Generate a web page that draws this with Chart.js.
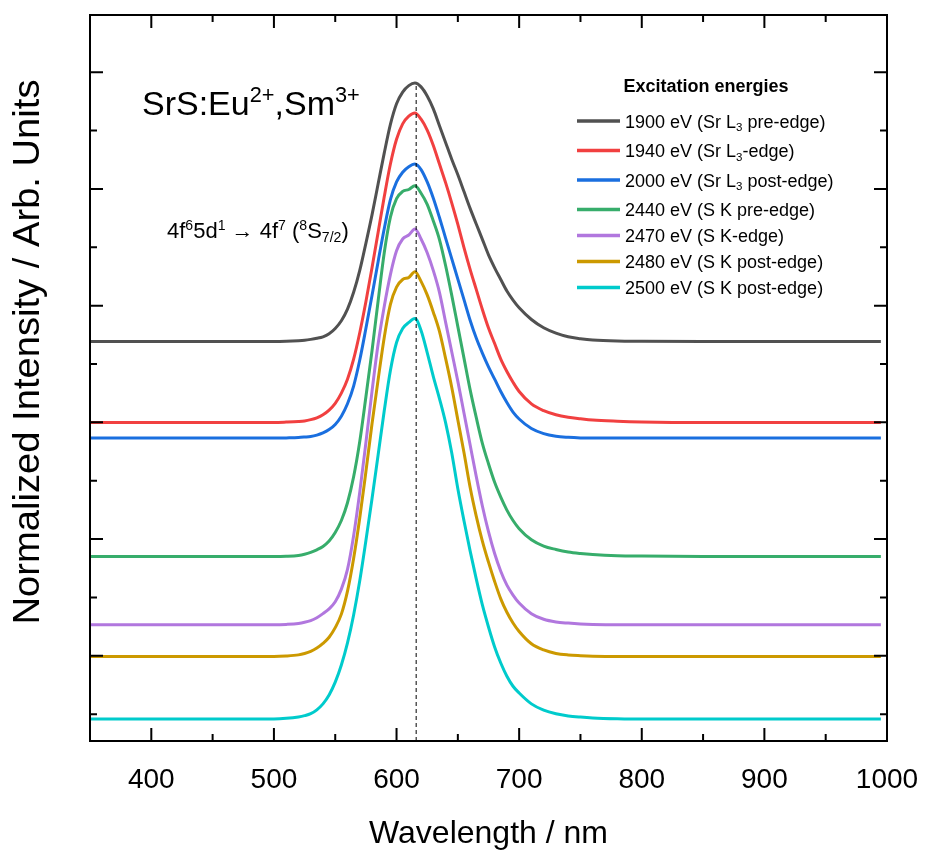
<!DOCTYPE html>
<html>
<head>
<meta charset="utf-8">
<script src="https://cdn.jsdelivr.net/npm/chart.js@4.4.1/dist/chart.umd.min.js"></script>
<style>
  html, body { margin: 0; padding: 0; background: #fff; }
</style>
</head>
<body>
<canvas id="spectra" width="925" height="860"></canvas>
<script>
// ==============================
// DATA
// ==============================
const wavelengths = [350, 400, 450, 500, 510,
                     520, 525, 530, 535, 540, 545, 550, 555, 560, 565, 570, 575, 580, 585, 590, 595, 600, 605, 610, 615,
                     620, 625, 630, 635, 640, 645, 650, 655, 660, 665, 670, 675, 680, 685, 690, 695, 700,
                     710, 720, 730, 740, 750, 760, 780, 800,
                     850, 900, 950, 995];

// stacked (offset) normalized intensities, one array per excitation energy
const i1900 = [2.693, 2.693, 2.693, 2.693, 2.695,
               2.700, 2.704, 2.711, 2.720, 2.733, 2.759, 2.804, 2.870, 2.970, 3.114, 3.302, 3.534, 3.778, 4.044, 4.309, 4.553, 4.730, 4.830, 4.885, 4.907,
               4.874, 4.796, 4.686, 4.542, 4.398, 4.254, 4.121, 3.977, 3.833, 3.700, 3.568, 3.435, 3.324, 3.224, 3.125, 3.047, 2.981,
               2.881, 2.810, 2.764, 2.733, 2.717, 2.706, 2.697, 2.695,
               2.693, 2.693, 2.693, 2.693];
const i1940 = [1.999, 1.999, 1.999, 1.999, 2.002,
               2.007, 2.012, 2.023, 2.039, 2.065, 2.105, 2.163, 2.251, 2.370, 2.542, 2.768, 3.033, 3.325, 3.629, 3.934, 4.213, 4.425, 4.557, 4.623, 4.650,
               4.597, 4.504, 4.372, 4.213, 4.054, 3.881, 3.696, 3.497, 3.311, 3.139, 2.967, 2.808, 2.675, 2.542, 2.436, 2.344, 2.264,
               2.158, 2.100, 2.065, 2.044, 2.031, 2.020, 2.010, 2.004,
               1.999, 1.999, 1.999, 1.999];
const i2000 = [1.865, 1.865, 1.865, 1.865, 1.867,
               1.870, 1.874, 1.879, 1.891, 1.910, 1.938, 1.982, 2.053, 2.159, 2.311, 2.534, 2.804, 3.086, 3.379, 3.661, 3.908, 4.060, 4.143, 4.190, 4.213,
               4.166, 4.060, 3.920, 3.755, 3.579, 3.403, 3.227, 3.051, 2.875, 2.722, 2.593, 2.475, 2.370, 2.264, 2.170, 2.088, 2.029,
               1.947, 1.903, 1.881, 1.872, 1.867, 1.865, 1.865, 1.865,
               1.865, 1.865, 1.865, 1.865];
const i2440 = [0.851, 0.851, 0.851, 0.851, 0.853,
               0.860, 0.870, 0.886, 0.908, 0.937, 0.984, 1.057, 1.159, 1.311, 1.534, 1.836, 2.217, 2.614, 3.042, 3.455, 3.757, 3.916, 3.979, 3.995, 4.027,
               3.963, 3.868, 3.725, 3.566, 3.344, 3.090, 2.820, 2.550, 2.280, 2.042, 1.820, 1.645, 1.486, 1.359, 1.248, 1.159, 1.089,
               0.994, 0.940, 0.911, 0.889, 0.876, 0.867, 0.857, 0.854,
               0.851, 0.851, 0.851, 0.851];
const i2470 = [0.266, 0.266, 0.266, 0.266, 0.269,
               0.277, 0.287, 0.302, 0.326, 0.361, 0.402, 0.463, 0.571, 0.741, 1.029, 1.402, 1.825, 2.266, 2.673, 2.995, 3.266, 3.470, 3.571, 3.605, 3.656,
               3.571, 3.453, 3.300, 3.114, 2.859, 2.605, 2.351, 2.080, 1.808, 1.537, 1.283, 1.063, 0.876, 0.724, 0.605, 0.520, 0.452,
               0.361, 0.313, 0.290, 0.280, 0.273, 0.269, 0.266, 0.266,
               0.266, 0.266, 0.266, 0.266];
const i2480 = [-0.006, -0.006, -0.006, -0.006, -0.002,
               0.008, 0.020, 0.038, 0.066, 0.106, 0.159, 0.241, 0.357, 0.554, 0.834, 1.181, 1.576, 1.988, 2.367, 2.730, 3.010, 3.158, 3.224, 3.241, 3.290,
               3.208, 3.092, 2.944, 2.779, 2.548, 2.301, 2.021, 1.741, 1.444, 1.197, 0.983, 0.802, 0.637, 0.488, 0.373, 0.281, 0.208,
               0.103, 0.050, 0.020, 0.007, 0.001, -0.003, -0.006, -0.006,
               -0.006, -0.006, -0.006, -0.006];
const i2500 = [-0.542, -0.542, -0.542, -0.541, -0.536,
               -0.524, -0.513, -0.496, -0.463, -0.412, -0.336, -0.226, -0.079, 0.110, 0.350, 0.642, 0.985, 1.346, 1.723, 2.101, 2.444, 2.684, 2.804, 2.856, 2.890,
               2.787, 2.598, 2.392, 2.204, 1.998, 1.740, 1.431, 1.157, 0.899, 0.659, 0.436, 0.247, 0.076, -0.062, -0.175, -0.261, -0.319,
               -0.412, -0.466, -0.497, -0.515, -0.525, -0.532, -0.539, -0.542,
               -0.542, -0.542, -0.542, -0.542];

const seriesValues = [i1900, i1940, i2000, i2440, i2470, i2480, i2500];
const seriesLabels = [
  "1900 eV (Sr L_{3} pre-edge)",
  "1940 eV (Sr L_{3}-edge)",
  "2000 eV (Sr L_{3} post-edge)",
  "2440 eV (S K pre-edge)",
  "2470 eV (S K-edge)",
  "2480 eV (S K post-edge)",
  "2500 eV (S K post-edge)"
];
const seriesColors = ["#515151", "#F14040", "#1A6FDF", "#37AD6B", "#B177DE", "#CC9900", "#00CBCC"];

const xMajorTicks = [400, 500, 600, 700, 800, 900, 1000];
const xMinorTicks = [450, 550, 650, 750, 850, 950];
const yMajorTicks = [0, 1, 2, 3, 4, 5];
const yMinorTicks = [-0.5, 0.5, 1.5, 2.5, 3.5, 4.5];

const peakWavelength = 616;      // dashed marker
const peakMarkerRange = [-0.73, 4.90];

const FONT = '"Liberation Sans", Arial, Helvetica, sans-serif';

// ==============================
// HELPERS
// ==============================
// draws text with ^{sup} and _{sub} pieces
function drawRich(ctx, text, x, y, size){
  const re = /([\^_])\{([^}]*)\}/g;
  const parts = [];
  let last = 0, m;
  while((m = re.exec(text))){
    if(m.index > last) parts.push({t: text.slice(last, m.index), k: ""});
    parts.push({t: m[2], k: m[1]});
    last = re.lastIndex;
  }
  if(last < text.length) parts.push({t: text.slice(last), k: ""});

  let cx = x;
  ctx.textAlign = "left";
  ctx.textBaseline = "alphabetic";
  for(const p of parts){
    const s = p.k ? size * 0.64 : size;
    const dy = p.k === "^" ? -size * 0.38 : (p.k === "_" ? size * 0.2 : 0);
    ctx.font = `${s}px ${FONT}`;
    ctx.fillText(p.t, cx, y + dy);
    cx += ctx.measureText(p.t).width;
  }
}

// ==============================
// PLUGINS
// ==============================
const framePlugin = {
  id: "frame",
  afterDatasetsDraw(chart){
    const {ctx, chartArea: a, scales: {x, y}} = chart;
    ctx.save();
    ctx.strokeStyle = "#000";
    ctx.lineWidth = 2;
    ctx.strokeRect(a.left, a.top, a.right - a.left, a.bottom - a.top);

    ctx.beginPath();
    const tick = (len, vals, horiz) => {
      vals.forEach(v => {
        if(horiz){
          const px = x.getPixelForValue(v);
          ctx.moveTo(px, a.bottom); ctx.lineTo(px, a.bottom - len);
          ctx.moveTo(px, a.top);    ctx.lineTo(px, a.top + len);
        } else {
          const py = y.getPixelForValue(v);
          ctx.moveTo(a.left, py);  ctx.lineTo(a.left + len, py);
          ctx.moveTo(a.right, py); ctx.lineTo(a.right - len, py);
        }
      });
    };
    tick(13, xMajorTicks, true);
    tick(7, xMinorTicks, true);
    tick(13, yMajorTicks, false);
    tick(7, yMinorTicks, false);
    ctx.stroke();
    ctx.restore();
  }
};

const textPlugin = {
  id: "texts",
  afterDraw(chart){
    const ctx = chart.ctx;
    ctx.save();
    ctx.fillStyle = "#000";

    // -- sample + transition --
    drawRich(ctx, "SrS:Eu^{2+},Sm^{3+}", 142, 115, 34);
    drawRich(ctx, "4f^{6}5d^{1} \u2192 4f^{7} (^{8}S_{7/2})", 167, 238, 22);

    // -- legend --
    ctx.font = `bold 18px ${FONT}`;
    ctx.textAlign = "center";
    ctx.textBaseline = "alphabetic";
    ctx.fillText("Excitation energies", 706, 92);

    let rowY = 121;
    chart.data.datasets.forEach(ds => {
      if(!ds.legendText) return;
      ctx.strokeStyle = ds.borderColor;
      ctx.lineWidth = 3.5;
      ctx.beginPath();
      ctx.moveTo(577, rowY); ctx.lineTo(620, rowY);
      ctx.stroke();
      drawRich(ctx, ds.legendText, 625, rowY + 6.5, 18);
      rowY += ds.legendText.includes("_{") ? 29.5 : 26;
    });

    // -- y title --
    ctx.save();
    ctx.translate(39, 352);
    ctx.rotate(-Math.PI / 2);
    ctx.font = `36px ${FONT}`;
    ctx.textAlign = "center";
    ctx.textBaseline = "alphabetic";
    const label = "Normalized Intensity / Arb. Units";
    const w = ctx.measureText(label).width;
    ctx.scale(545 / w, 1);
    ctx.fillText(label, 0, 0);
    ctx.restore();

    ctx.restore();
  }
};

// ==============================
// CHART
// ==============================
const datasets = seriesValues.map((vals, i) => ({
  label: seriesLabels[i].replace(/_\{([^}]*)\}/g, "$1"),
  legendText: seriesLabels[i],
  data: wavelengths.map((w, j) => ({x: w, y: vals[j]})),
  borderColor: seriesColors[i],
  borderWidth: 3,
  pointRadius: 0,
  cubicInterpolationMode: "monotone",
  order: i + 1
}));

datasets.push({
  label: "peak",
  data: [{x: peakWavelength, y: peakMarkerRange[0]}, {x: peakWavelength, y: peakMarkerRange[1]}],
  borderColor: "#000",
  borderWidth: 1,
  borderDash: [4, 3],
  pointRadius: 0,
  order: 0
});

const ctx = document.getElementById("spectra").getContext("2d");

const chart = new Chart(ctx, {
  type: "line",
  data: { datasets },
  options: {
    responsive: false,
    animation: false,
    devicePixelRatio: 1,
    layout: { padding: { top: 15, right: 38, bottom: 0, left: 0 } },
    plugins: {
      legend: { display: false },
      tooltip: { enabled: false }
    },
    scales: {
      x: {
        type: "linear",
        min: 350,
        max: 1000,
        afterBuildTicks: s => { s.ticks = xMajorTicks.map(v => ({value: v})); },
        afterFit: s => { s.height = 119; s.paddingLeft = 0; s.paddingRight = 0; },
        grid: { display: false, drawTicks: false },
        border: { display: false },
        ticks: {
          color: "#000",
          font: { family: FONT, size: 28 },
          padding: 22,
          maxRotation: 0,
          autoSkip: false,
          callback: v => String(v)
        },
        title: {
          display: true,
          text: "Wavelength / nm",
          color: "#000",
          font: { family: FONT, size: 32 },
          padding: { top: 0, bottom: 7 }
        }
      },
      y: {
        min: -0.73,
        max: 5.49,
        afterFit: s => { s.width = 90; },
        grid: { display: false, drawTicks: false },
        border: { display: false },
        ticks: { display: false }
      }
    }
  },
  plugins: [framePlugin, textPlugin]
});
</script>
</body>
</html>
